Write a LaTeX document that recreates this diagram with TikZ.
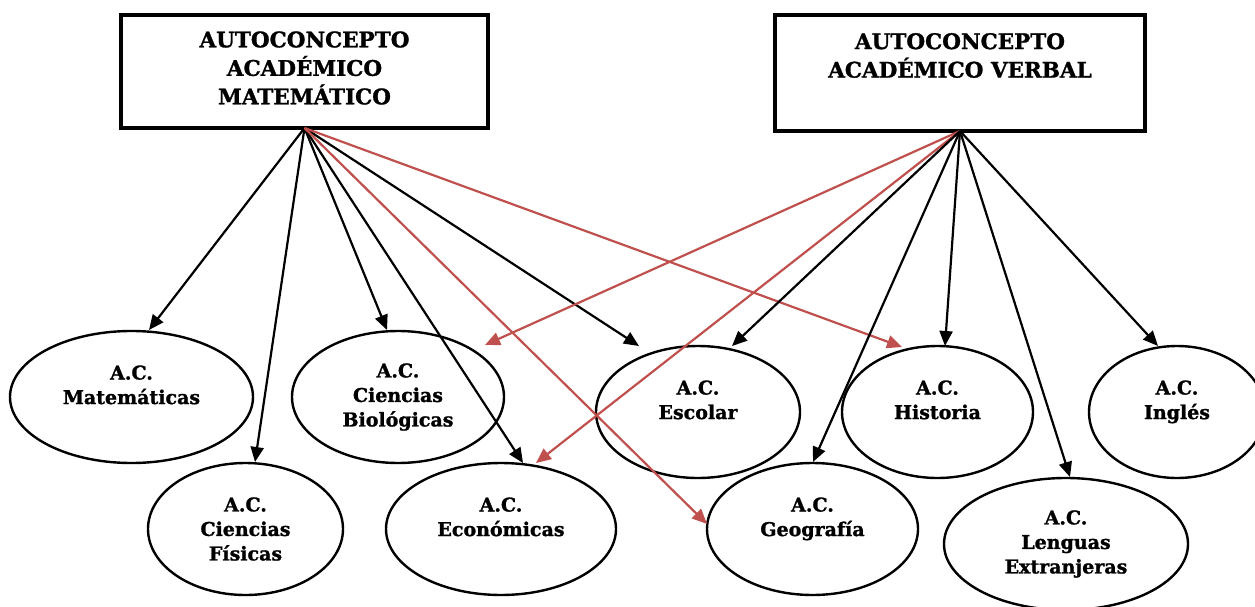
\documentclass[tikz,border=0pt]{standalone}
\usepackage{fontspec}
\setmainfont[BoldFeatures={FakeBold=1.3}]{DejaVu Serif}
\usetikzlibrary{shapes.geometric,arrows.meta,calc}
\definecolor{acred}{HTML}{C0504D}
\begin{document}
\begin{tikzpicture}[x=1pt,y=-1pt,
  boxnode/.style={draw, line width=3.8pt, rectangle, inner sep=0pt, outer sep=0pt},
  boxtext/.style={align=center, inner sep=0pt, font=\fontsize{21.5}{28.5}\selectfont\bfseries},
  oval/.style={draw, line width=2.4pt, ellipse, inner sep=0pt, outer sep=0pt,
    align=center, font=\fontsize{19}{24.5}\selectfont\bfseries},
  link/.style={line width=2.2pt, -{Triangle[length=15pt,width=13pt]}},
  redlink/.style={link, draw=acred, fill=acred}]
\useasboundingbox (0,0) rectangle (1255,607);

% top constructs
\node[boxnode, minimum width=367, minimum height=113,
  label={[boxtext, yshift=3.5pt]center:AUTOCONCEPTO\\ACADÉMICO\\MATEMÁTICO}]
  (mat) at (304.5,71.5) {};
\node[boxnode, minimum width=370, minimum height=116,
  label={[boxtext, yshift=17.5pt]center:AUTOCONCEPTO\\ACADÉMICO VERBAL}]
  (ver) at (960,73) {};

% subject areas
\node[oval, minimum width=243, minimum height=132] (acmat) at (131.5,397) {A.C.\\Matemáticas\\~};
\node[oval, minimum width=195, minimum height=132] (acfis) at (245.5,529) {A.C.\\Ciencias\\Físicas};
\node[oval, minimum width=212, minimum height=132] (acbio) at (398,397) {A.C.\\Ciencias\\Biológicas};
\node[oval, minimum width=230, minimum height=132] (aceco) at (501,529) {A.C.\\Económicas\\~};
\node[oval, minimum width=204, minimum height=132] (acesc) at (698,412) {A.C.\\Escolar\\~};
\node[oval, minimum width=211, minimum height=132] (acgeo) at (812.5,529) {A.C.\\Geografía\\~};
\node[oval, minimum width=191, minimum height=132] (achis) at (937.5,412) {A.C.\\Historia\\~};
\node[oval, minimum width=244, minimum height=132] (aclen) at (1066,544) {A.C.\\Lenguas\\Extranjeras};
\node[oval, minimum width=176, minimum height=132] (acing) at (1177,412) {A.C.\\Inglés\\~};

% paths from the mathematical self-concept
\draw[link] (mat.south) -- ($(acmat)+(17.5,-67)$);
\draw[link] (mat.south) -- ($(acfis)+(9.5,-67)$);
\draw[link] (mat.south) -- ($(acbio)+(-11,-67)$);
\draw[link] (mat.south) -- ($(aceco)+(22,-66)$);
\draw[link] (mat.south) -- ($(acesc)+(-59,-66)$);
\draw[redlink] (mat.south) -- ($(achis)+(-35.5,-65)$);
\draw[redlink] (mat.south) -- ($(acgeo)+(-105.5,-5)$);

% paths from the verbal self-concept
\draw[redlink] (ver.south) -- ($(acbio)+(87,-52)$);
\draw[redlink] (ver.south) -- ($(aceco)+(35,-66)$);
\draw[link] (ver.south) -- ($(acesc)+(34,-66)$);
\draw[link] (ver.south) -- ($(acgeo)+(0.5,-67)$);
\draw[link] (ver.south) -- ($(achis)+(7.5,-66)$);
\draw[link] (ver.south) -- ($(aclen)+(4,-67)$);
\draw[link] (ver.south) -- ($(acing)+(-19,-66)$);
\end{tikzpicture}
\end{document}
